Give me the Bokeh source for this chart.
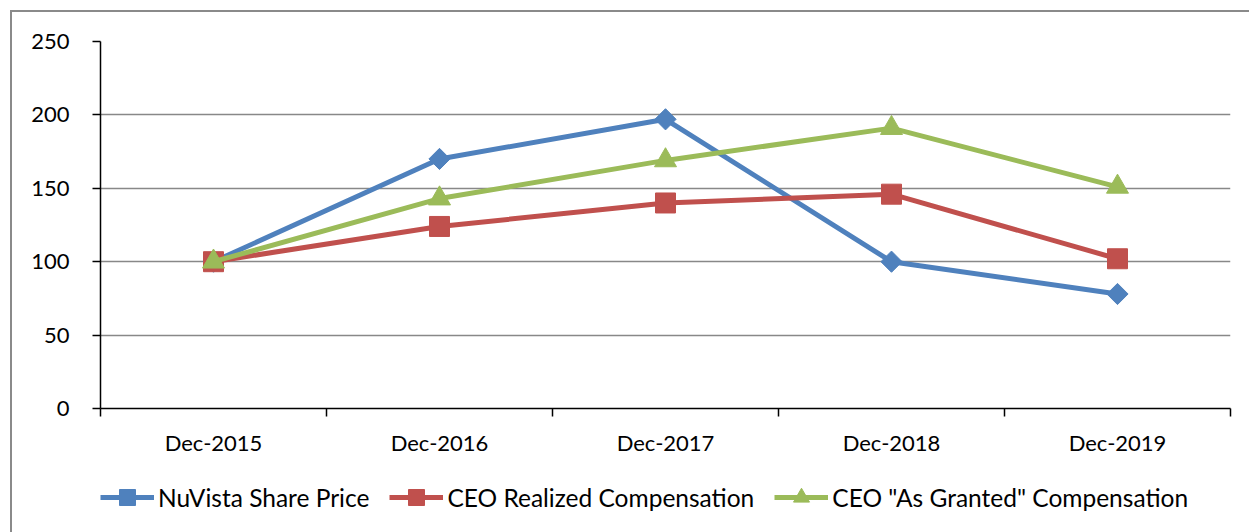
import math
from bokeh.plotting import figure
from bokeh.layouts import column
from bokeh.models import FixedTicker, Legend, LegendItem
from bokeh.embed import file_html
from bokeh.resources import INLINE

categories = ["Dec-2015", "Dec-2016", "Dec-2017", "Dec-2018", "Dec-2019"]
share_price = [100, 170, 197, 100, 78]
realized = [100, 124, 140, 146, 102]
granted = [100, 143, 169, 191, 151]
y_ticks = [0, 50, 100, 150, 200, 250]

FONT = "Lato"
x = [i + 0.5 for i in range(len(categories))]

p = figure(width=1237, height=458, output_backend="svg", toolbar_location=None,
           x_range=(0, len(categories)), y_range=(0, 250),
           min_border_left=88, min_border_right=19, min_border_top=29, min_border_bottom=62)
p.outline_line_color = None

p.xgrid.grid_line_color = None
p.ygrid.grid_line_color = "#888888"
p.ygrid.grid_line_width = 1.5
p.ygrid.ticker = FixedTicker(ticks=y_ticks[1:])

p.yaxis.ticker = FixedTicker(ticks=y_ticks)
p.yaxis.axis_line_color = "black"
p.yaxis.axis_line_width = 1.5
p.yaxis.major_tick_line_width = 1.5
p.yaxis.major_tick_in = 0
p.yaxis.major_tick_out = 8
p.yaxis.minor_tick_line_color = None
p.yaxis.major_label_text_font = FONT
p.yaxis.major_label_text_font_size = "22px"
p.yaxis.major_label_text_color = "black"
p.yaxis.major_label_standoff = 23

p.xaxis.ticker = FixedTicker(ticks=x, minor_ticks=list(range(len(categories) + 1)))
p.xaxis.major_label_overrides = {xx: c for xx, c in zip(x, categories)}
p.xaxis.axis_line_color = "black"
p.xaxis.axis_line_width = 1.5
p.xaxis.major_tick_line_color = None
p.xaxis.minor_tick_line_color = "black"
p.xaxis.minor_tick_line_width = 1.5
p.xaxis.minor_tick_in = 0
p.xaxis.minor_tick_out = 8
p.xaxis.major_label_text_font = FONT
p.xaxis.major_label_text_font_size = "22px"
p.xaxis.major_label_text_color = "black"
p.xaxis.major_label_standoff = 12

series = [
    ("NuVista Share Price", share_price, "#4F81BD", "square", 15, math.pi / 4),
    ("CEO Realized Compensation", realized, "#C0504D", "square", 20, 0),
    ("CEO \"As Granted\" Compensation", granted, "#9BBB59", "triangle", 22, 0),
]

# legend panel (its frame is aligned with the main plot's frame by the column)
lp = figure(width=1237, height=62, output_backend="svg", toolbar_location=None,
            x_range=(0, 1), y_range=(0, 1), x_axis_location=None, y_axis_location=None,
            min_border_left=88, min_border_right=19, min_border_top=0, min_border_bottom=0)
lp.outline_line_color = None
lp.grid.visible = False

items = []
for label, ys, color, marker, size, ang in series:
    p.line(x, ys, line_color=color, line_width=5)
    p.scatter(x, ys, marker=marker, size=size, angle=ang, fill_color=color, line_color=color)
    l = lp.line([-10, -9], [-10, -10], line_color=color, line_width=5)
    s = lp.scatter([-10], [-10], marker=marker, size=size, angle=ang, fill_color=color, line_color=color)
    items.append(LegendItem(label=label, renderers=[l, s]))

legend = Legend(items=items, orientation="horizontal", location=(0, 15),
                label_text_font=FONT, label_text_font_size="24.5px", label_text_color="black",
                glyph_width=54, glyph_height=40, spacing=20, label_standoff=4,
                border_line_color=None, background_fill_alpha=0, margin=0, padding=0)
lp.add_layout(legend, "center")

layout = column(p, lp, spacing=0)
layout.styles = {"border-top": "2px solid #8a8a8a", "border-left": "2px solid #8a8a8a",
                 "margin-left": "10px", "margin-top": "10px"}

open("out.html", "w").write(file_html(layout, INLINE))
